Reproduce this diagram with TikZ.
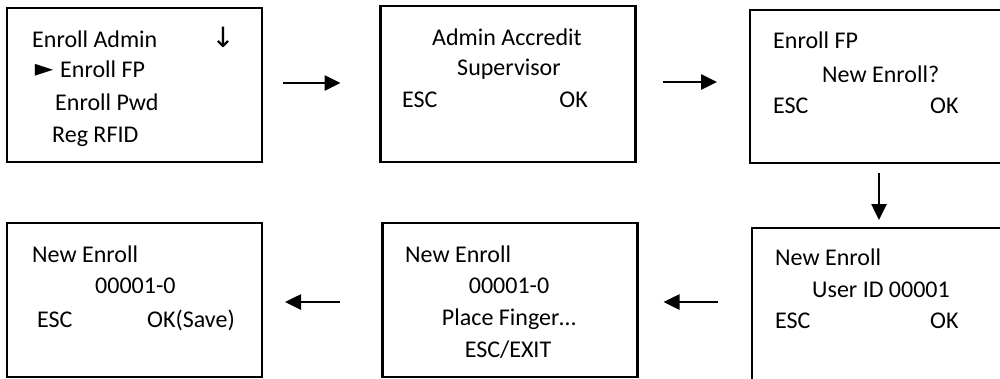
\documentclass[tikz,border=0pt]{standalone}
\usepackage{fontspec}
\setmainfont{Carlito}
\newfontfamily\symfont{DejaVu Sans}
\usepackage{tikz}
\usetikzlibrary{arrows.meta,positioning,calc}

\tikzset{
	screen/.style={draw,rectangle,line width=2.6pt,minimum width=255pt,inner sep=0pt,outer sep=0pt},
	lcd/.style={inner sep=0pt,font=\fontsize{24}{28}\selectfont},
	lcdl/.style={lcd,anchor=base west},
	lcdc/.style={lcd,anchor=base},
	flow/.style={line width=2.6pt,-{Triangle[length=16pt,width=15pt]}},
}

\begin{document}
\begin{tikzpicture}[x=1pt,y=-1pt]
	\useasboundingbox (0,0) rectangle (1000,378);
	\clip (0,0) rectangle (1000,378);
	% screens, top row left to right, bottom row right to left
	\node[screen,minimum height=154pt] (menu) at (134.5,85) {};
	\node[screen,minimum height=156pt] (accredit) at (508,84) {};
	\node[screen,minimum height=153pt] (enrollfp) at (877.5,86.5) {};
	\node[screen,minimum height=155pt] (userid) at (879.5,305.5) {};
	\node[screen,minimum height=154pt] (place) at (510,300) {};
	\node[screen,minimum height=154pt] (save) at (134.5,300) {};

	\node[lcdl] (m1) at (32,47) {Enroll Admin};
	\node[inner sep=0pt,font=\symfont\fontsize{28}{28}\selectfont] (mdown) at (223,37) {↓};
	\node[inner sep=0pt,font=\symfont\fontsize{24}{24}\selectfont] (mcur) at (44,70.5) {►};
	\node[lcdl] (m2) at (60,77) {Enroll FP};
	\node[lcdl] (m3) at (55,110) {Enroll Pwd};
	\node[lcdl] (m4) at (52,142) {Reg RFID};

	\node[lcdc] (a1) at (507,45) {Admin Accredit};
	\node[lcdc] (a2) at (509,75) {Supervisor};
	\node[lcdl] (aesc) at (402,107) {ESC};
	\node[lcd,anchor=base east] (aok) at (588,107) {OK};

	\node[lcdl] (e1) at (773,48) {Enroll FP};
	\node[lcdl] (e2) at (822,82) {New Enroll?};
	\node[lcdl] (eesc) at (773,113) {ESC};
	\node[lcdl] (eok) at (930,113) {OK};

	\node[lcdl] (u1) at (775,265) {New Enroll};
	\node[lcdl] (u2) at (812,297) {User ID 00001};
	\node[lcdl] (uesc) at (775,328) {ESC};
	\node[lcdl] (uok) at (930,328) {OK};

	\node[lcdl] (p1) at (405,262) {New Enroll};
	\node[lcdc] (p2) at (509,293) {00001-0};
	\node[lcdc] (p3) at (509,325) {Place Finger…};
	\node[lcdc] (p4) at (508,357) {ESC/EXIT};

	\node[lcdl] (s1) at (32,262) {New Enroll};
	\node[lcdl] (s2) at (95,293) {00001-0};
	\node[lcdl] (sesc) at (37,327) {ESC};
	\node[lcdl] (sok) at (147,327) {OK(Save)};

	% flow between the screens
	\draw[flow] ($(menu.east)+(21,-2)$) -- ($(accredit.west)+(-40,-1)$);
	\draw[flow] ($(accredit.east)+(27,-2)$) -- ($(enrollfp.west)+(-33,-4.5)$);
	\draw[flow] ($(enrollfp.south)+(1.5,10)$) -- ($(userid.north)+(-0.5,-8)$);
	\draw[flow] ($(userid.west)+(-34,-3.5)$) -- ($(place.east)+(26,2)$);
	\draw[flow] ($(place.west)+(-43,2)$) -- ($(save.east)+(23,2)$);
\end{tikzpicture}
\end{document}
